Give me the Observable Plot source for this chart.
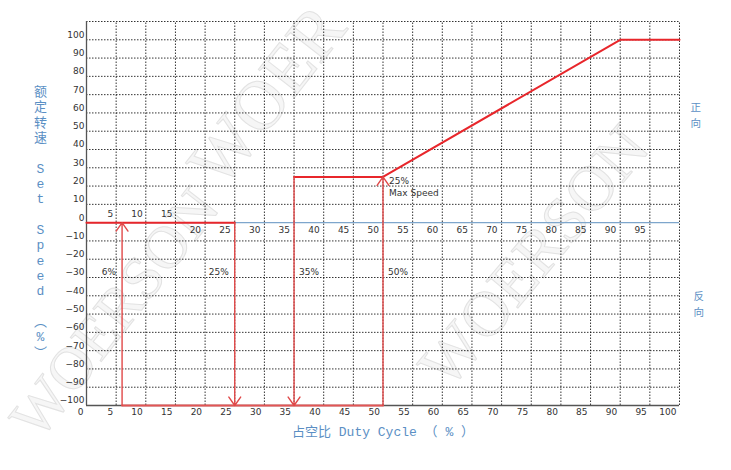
<!DOCTYPE html>
<html><head><meta charset="utf-8">
<script src="https://cdn.jsdelivr.net/npm/d3@7"></script>
<script src="https://cdn.jsdelivr.net/npm/@observablehq/plot@0.6"></script>
<style>body{margin:0;background:#fff} #chart svg{display:block}</style>
</head><body><div id="chart"></div>
<script>
// ---- data ----
const xTicks = [0,5,10,15,20,25,30,35,40,45,50,55,60,65,70,75,80,85,90,95,100];
const yTicks = [-100,-90,-80,-70,-60,-50,-40,-30,-20,-10,0,10,20,30,40,50,60,70,80,90,100];
const gridX = [5,10,15,20,25,30,35,40,45,50,55,60,65,70,75,80,85,90,95,100];
const gridY = [-90,-80,-70,-60,-50,-40,-30,-20,-10,10,20,30,40,50,60,70,80,90,100,110];
const zeroLabelsAbove = [5,10,15];
const zeroLabelsBelow = [20,25,30,35,40,45,50,55,60,65,70,75,80,85,90,95];
const forwardCurve = [{x:35,y:25},{x:50,y:25},{x:90,y:100},{x:100,y:100}];
const zeroSegment = [{x:0,y:0},{x:25,y:0}];
const bottomSegment = [{x:6,y:-100},{x:50,y:-100}];
const arrows = [
  {x1:6,y1:-100,x2:6,y2:0},
  {x1:25,y1:0,x2:25,y2:-100},
  {x1:35,y1:25,x2:35,y2:-100},
  {x1:50,y1:-100,x2:50,y2:25}
];
const pctLeft = [{x:6,label:"6%"},{x:25,label:"25%"}];
const pctRight = [{x:35,label:"35%"},{x:50,label:"50%"}];
const pctY = -27;
const maxSpeedNote = [{x:50,y:20,label:"25%\nMax Speed"}];
const yTitle = ["额","定","转","速","","S","e","t","","S","p","e","e","d","","︵","%","︶"];
const forwardLabel = [{y:62.8,label:"正"},{y:54.3,label:"向"}];
const reverseLabel = [{y:-40.5,label:"反"},{y:-49,label:"向"}];
const xTitle = "占空比 Duty Cycle （ % ）";
const watermarks = [
  {x:285,y:110,r:-52,s:70,t:"WOER"},
  {x:130,y:325,r:-52,s:60,t:"WOERSON"},
  {x:550,y:270,r:-50,s:64,t:"WOERSON"}
];

const red = "#e8262b";
const blue = "#5b8fc4";
const cjk = "'Liberation Mono','Noto Sans CJK SC',monospace";

const chart = Plot.plot({
  width: 731, height: 470,
  marginLeft: 86, marginRight: 52, marginTop: 21, marginBottom: 65,
  x: {domain: [0, 100]},
  y: {domain: [-100, 110]},
  style: {fontFamily: "DejaVu Sans, sans-serif", fontSize: "9px", color: "#333", background: "transparent"},
  marks: [
    Plot.ruleX(gridX, {y1: -100, y2: 110, stroke: "#000", strokeWidth: 1, strokeDasharray: "1.5,1.5", strokeOpacity: 0.8}),
    Plot.ruleY(gridY, {x1: 0, x2: 100, stroke: "#000", strokeWidth: 1, strokeDasharray: "1.5,1.5", strokeOpacity: 0.8}),
    Plot.ruleY([0], {x1: 0, x2: 100, stroke: "#7ea6cc", strokeWidth: 1.2}),
    Plot.ruleX([0], {y1: -100, y2: 110, stroke: "#555", strokeWidth: 1.3}),
    Plot.ruleY([-100], {x1: 0, x2: 100, stroke: "#555", strokeWidth: 1.3}),
    Plot.axisY(yTicks, {tickSize: 0, tickPadding: 2, dy: -5, fill: "#333"}),
    Plot.axisX(xTicks, {anchor: "bottom", tickSize: 0, tickPadding: 3, textAnchor: "end", dx: -3, fill: "#333", label: null}),
    Plot.text(zeroLabelsAbove, {x: d => d, y: 0, text: d => String(d), textAnchor: "end", dx: -3, dy: -9, fill: "#333"}),
    Plot.text(zeroLabelsBelow, {x: d => d, y: 0, text: d => String(d), textAnchor: "end", dx: -4, dy: 7, fill: "#333"}),
    Plot.line(zeroSegment, {x: "x", y: "y", stroke: red, strokeWidth: 2}),
    Plot.line(bottomSegment, {x: "x", y: "y", stroke: "#e35555", strokeWidth: 2}),
    Plot.line(forwardCurve, {x: "x", y: "y", stroke: red, strokeWidth: 2}),
    Plot.arrow(arrows, {x1: "x1", y1: "y1", x2: "x2", y2: "y2", stroke: "#e04848", strokeWidth: 1.4, headLength: 11, headAngle: 70}),
    Plot.text(pctLeft, {x: "x", y: pctY, text: "label", textAnchor: "end", dx: -6, fill: "#333"}),
    Plot.text(pctRight, {x: "x", y: pctY, text: "label", textAnchor: "start", dx: 5, fill: "#333"}),
    Plot.text(maxSpeedNote, {x: "x", y: "y", text: "label", textAnchor: "start", dx: 6, lineHeight: 1.3, fill: "#333"}),
    Plot.text([yTitle.join("\n")], {x: 0, y: 0.6, text: d => d, dx: -46, fontSize: 13, lineHeight: 1.18, fill: blue, fontFamily: cjk}),
    Plot.text(forwardLabel, {x: 100, y: "y", text: "label", dx: 11, fontSize: 10.5, fill: blue, fontFamily: "'Noto Sans CJK SC',sans-serif", textAnchor: "start"}),
    Plot.text(reverseLabel, {x: 100, y: "y", text: "label", dx: 14, fontSize: 10.5, fill: blue, fontFamily: "'Noto Sans CJK SC',sans-serif", textAnchor: "start"}),
    Plot.text([xTitle], {frameAnchor: "bottom", text: d => d, dy: 30, fontSize: 13, fill: blue, fontFamily: cjk})
  ]
});

document.getElementById("chart").appendChild(chart);

// watermark (light grey, behind everything)
const svg = d3.select(chart);
const wm = svg.insert("g", ":first-child").attr("pointer-events", "none");
wm.selectAll("text").data(watermarks).join("text")
  .attr("transform", d => `translate(${d.x},${d.y}) rotate(${d.r})`)
  .attr("text-anchor", "middle")
  .attr("font-family", "'Liberation Serif','DejaVu Serif',serif")
  .attr("font-size", d => d.s)
  .attr("fill", "#f6f6f6")
  .attr("stroke", "#e2e2e2")
  .attr("stroke-width", 1)
  .text(d => d.t);
</script>
</body></html>
